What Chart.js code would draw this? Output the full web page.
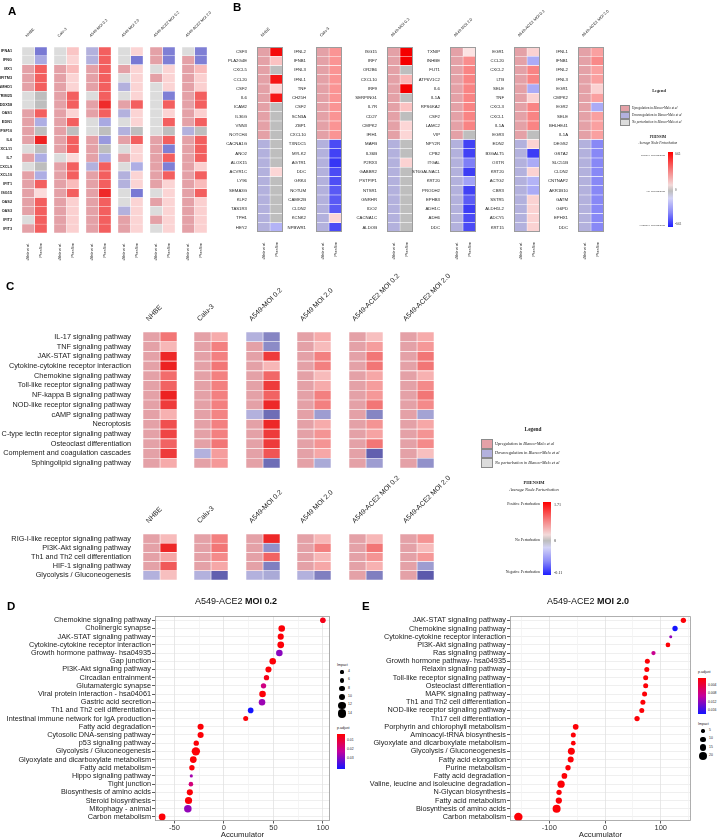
<!DOCTYPE html>
<html lang="en">
<head>
<meta charset="UTF-8" />
<title>PHENSIM vs Blanco-Melo et al.</title>
<script src="https://cdn.jsdelivr.net/npm/chart.js"></script>
<style>
  body { margin: 0; background: #fff; font-family: Arial, "Liberation Sans", sans-serif; }
  #page { position: relative; width: 719px; height: 839px; overflow: hidden; }
  #page canvas { position: absolute; }
  .t { position: absolute; white-space: nowrap; line-height: 1; color: #1a1a1a; }
  .serif { font-family: "Liberation Serif", "DejaVu Serif", serif; }
  .letter { font-weight: bold; font-size: 11.5px; color: #000; }
  .sw { position: absolute; box-sizing: border-box; border: 0.8px solid #8a8a8a; }
</style>
</head>
<body>
<div id="page"></div>
<script>
  // ---------- data ----------
  const cellLines = ['NHBE', 'Calu-3', 'A549-MOI 0.2', 'A549 MOI 2.0', 'A549-ACE2 MOI 0.2', 'A549-ACE2 MOI 2.0'];
  const colNames = ['Blanco-Melo et al.', 'PhenSim'];

  // A - interferon / inflammatory genes
  const aGenes = ['IFNA1', 'IFNG', 'MX1', 'IFITM3', 'SAMHD1', 'TRIM25', 'DDX58', 'OAS1', 'EDN1', 'TNFSF10', 'IL6',
    'CXCL11', 'IL7', 'CXCL9', 'CXCL10', 'IFIT1', 'ISG15', 'OAS2', 'OAS3', 'IFIT2', 'IFIT3'];
  // Blanco-Melo call: 1 up, -1 down, 0 no perturbation (one array per cell line)
  const aBlanco = [
    [0, 0, 1, 1, 1, 0, 0, 1, 1, 1, 1, 0, 1, 0, 1, 1, 1, 1, 1, 0, 1],
    [0, 0, 1, 1, 1, 1, 1, 1, 1, 1, 1, 1, 0, 1, 1, 1, 1, 1, 1, 1, 1],
    [-1, -1, 1, 1, 1, 0, 1, 1, 0, 0, 1, 1, 1, -1, 1, 1, 1, 1, 1, 1, 1],
    [0, 0, 1, 0, -1, 0, 1, -1, 0, -1, 1, 0, 1, 0, -1, -1, 0, 0, -1, 1, 1],
    [1, 1, 0, 1, 0, 0, 0, 0, 0, 0, 1, 1, 1, 1, 1, 1, 0, 1, 0, 1, 0],
    [0, 1, 1, 1, 1, 1, 1, 1, 1, -1, 1, 1, 1, 1, 1, 1, 1, 1, 1, 1, 1]
  ];
  // PhenSim average node perturbation, relative to the colour bar ends (0 = no perturbation)
  const aPhensim = [
    [-0.8, -0.35, 0.65, 0.65, 0.65, 0, 0, 0.65, -0.3, 0, 0.95, 0, -0.3, 0, -0.3, 0.65, 0.04, 0.65, 0.65, 0.65, 0.65],
    [0.15, 0.08, 0.2, 0.08, 0.08, 0.65, 0.65, 0.08, 0.65, 0, 0.65, 0.65, 0.05, 0.65, 0.65, 0.2, 0.65, 0.1, 0.1, 0.1, 0.1],
    [0.65, 0.65, 0.65, 0.65, 0.65, 0.65, 0.9, 0.65, -0.35, 0, -0.5, 0, -0.3, 0.65, 0.65, 0.65, 0.92, 0.65, 0.65, 0.65, 0.65],
    [0.08, -0.8, 0.08, 0.08, 0.08, 0.08, 0.65, 0.08, 0.08, 0, 0.65, 0.08, 0.08, -0.3, 0.08, 0.08, -0.8, 0.08, 0.08, 0.08, 0.08],
    [-0.75, -0.75, 0.08, 0.08, 0.08, -0.75, 0.65, 0.08, 0.65, 0, 0.65, -0.75, 0.65, -0.75, 0.65, 0.08, 0.08, 0.08, 0.08, 0.08, 0.08],
    [-0.75, -0.75, 0.2, 0.1, 0.1, 0.65, 0.65, 0.1, 0.65, 0, 0.65, 0.65, 0.65, 0.1, 0.65, 0.2, 0.65, 0.1, 0.1, 0.1, 0.1]
  ];

  // B - top 10 up / top 10 down genes of each cell line
  const bGenes = [
    ['CSF3', 'PLA2G4E', 'CXCL5', 'CCL20', 'CSF2', 'IL6', 'ICAM2', 'IL36G', 'VNN3', 'NOTCH4', 'CACNA1G', 'ANO2', 'ALOX15', 'ACVR1C', 'LY96', 'SEMA3G', 'KLF2', 'TAS1R3', 'TPH1', 'HEY2'],
    ['IFNL2', 'IFNB1', 'IFNL3', 'IFNL1', 'TNF', 'CH25H', 'CSF2', 'SCN3A', 'ZBP1', 'CXCL10', 'TXNDC5', 'MYLK2', 'AGTR1', 'DDC', 'GRK4', 'NOTUM', 'CAMK2B', 'CLDN2', 'KCNK2', 'NPBWR1'],
    ['ISG15', 'IRF7', 'OR2B6', 'CXCL10', 'IRF9', 'SERPING1', 'IL7R', 'CD27', 'CMPK2', 'IFIH1', 'MAFB', 'IL36B', 'P2RX3', 'GABBR2', 'PSTPIP1', 'NTSR1', 'GNRHR', 'IDO2', 'CACNA1C', 'ALDOB'],
    ['TXNIP', 'INHBE', 'FUT1', 'ATP6V1C2', 'IL6', 'IL1A', 'RPS6KA2', 'CSF2', 'LAMC2', 'VIP', 'NPY2R', 'CPB2', 'ITGAL', 'ST6GALNAC1', 'KRT20', 'PRODH2', 'EPHB3', 'ADH1C', 'ADH6', 'DDC'],
    ['EGR1', 'CCL20', 'CXCL2', 'LTB', 'SELE', 'TNF', 'CXCL3', 'CXCL1', 'IL1A', 'EGR3', 'EDN2', 'B3GALT5', 'OXTR', 'KRT20', 'ACTG2', 'CBR3', 'SSTR5', 'ALDH1L2', 'ADCY5', 'KRT15'],
    ['IFNL1', 'IFNB1', 'IFNL2', 'IFNL3', 'EGR1', 'CMPK2', 'EGR2', 'SELE', 'BHLHE41', 'IL1A', 'DEGS2', 'GSTA2', 'SLC51B', 'CLDN2', 'CNTNAP2', 'AKR1B10', 'GATM', 'G6PD', 'EPHX1', 'DDC']
  ];
  const bBlanco = [1, 1, 1, 1, 1, 1, 1, 1, 1, 1, -1, -1, -1, -1, -1, -1, -1, -1, -1, -1];
  const bPhensim = [
    [0.95, 0.15, 0, 0.9, 0.06, 0.9, 0, 0, 0, 0, 0, 0, 0, 0.06, 0, 0, 0, 0, 0, -0.2],
    [0.35, 0.35, 0.35, 0.35, 0.35, 0.35, 0.35, 0.35, 0.35, 0.35, -0.8, -0.85, -0.92, -0.8, -0.78, -0.72, -0.72, -0.72, 0.06, -0.8],
    [1, 1, 0, 0.2, 1, 0, 0.15, 0, 0.06, 0.06, 0, 0, 0.08, 0, 0, 0, 0, 0, 0, 0],
    [0.005, 0.38, 0.42, 0.42, 0.42, 0.42, 0.42, 0.42, 0.42, 0, -0.85, -0.85, -0.5, -0.88, -0.3, -0.85, -0.7, -0.88, -0.8, -0.8],
    [0.08, -0.25, 0.42, 0.42, -0.25, 0.08, 0.42, 0.42, 0.42, 0, 0.08, -0.88, -0.25, 0.08, -0.2, -0.25, 0.08, 0.08, 0.08, 0.08],
    [0.3, 0.4, 0.3, 0.3, 0.08, 0.3, -0.25, 0.3, 0.3, 0.3, -0.45, -0.45, -0.45, -0.45, -0.45, -0.45, -0.45, -0.45, -0.45, -0.45]
  ];

  // C - KEGG pathways
  const cPaths = ['IL-17 signaling pathway', 'TNF signaling pathway', 'JAK-STAT signaling pathway', 'Cytokine-cytokine receptor interaction',
    'Chemokine signaling pathway', 'Toll-like receptor signaling pathway', 'NF-kappa B signaling pathway', 'NOD-like receptor signaling pathway',
    'cAMP signaling pathway', 'Necroptosis', 'C-type lectin receptor signaling pathway', 'Osteoclast differentiation',
    'Complement and coagulation cascades', 'Sphingolipid signaling pathway'];
  const cBlanco = [
    [1, 1, 1, 1, 1, 1, 1, 1, 1, 1, 1, 1, 1, 1],
    [1, 1, 1, 1, 1, 1, 1, 1, 1, 1, 1, 1, -1, 1],
    [-1, 1, 1, 1, 1, 1, 1, 1, -1, 1, 1, 1, 1, 1],
    [1, 1, 1, 1, 1, 1, 1, 1, 1, 1, 1, 1, 1, 1],
    [1, 1, 1, 1, 1, 1, 1, 1, 1, 1, 1, 1, 1, 1],
    [1, 1, 1, 1, 1, 1, 1, 1, 1, 1, 1, 1, 1, 1]
  ];
  const cPhensim = [
    [0.55, 0.22, 0.95, 0.98, 0.6, 0.65, 0.98, 0.85, 0.25, 0.75, 0.8, 0.65, 0.85, 0.28],
    [0.28, 0.5, 0.5, 0.55, 0.5, 0.5, 0.5, 0.5, 0.48, 0.5, 0.5, 0.55, 0.35, 0.38],
    [-0.55, -0.5, 0.85, 0.22, 0.62, 0.85, 0.65, 0.95, -0.75, 0.95, 0.85, 0.85, 0.72, -0.75],
    [0.28, 0.2, 0.5, 0.5, 0.2, 0.28, 0.5, 0.5, -0.35, 0.28, 0.4, 0.4, 0.3, -0.25],
    [0.18, 0.35, 0.55, 0.55, 0.3, 0.35, 0.38, 0.55, -0.55, 0.4, 0.32, 0.55, -0.85, -0.35],
    [0.28, 0.38, 0.55, 0.55, 0.25, 0.45, 0.55, 0.45, -0.3, 0.3, 0.4, 0.45, 0.18, -0.45]
  ];
  const cPaths2 = ['RIG-I-like receptor signaling pathway', 'PI3K-Akt signaling pathway', 'Th1 and Th2 cell differentiation',
    'HIF-1 signaling pathway', 'Glycolysis / Gluconeogenesis'];
  const cBlanco2 = [
    [1, 1, 1, 1, -1], [1, 1, 1, 1, -1], [1, 1, 1, 1, -1], [1, 1, 1, 1, -1], [1, 1, 1, 1, 1], [1, 1, 1, 1, 1]
  ];
  const cPhensim2 = [
    [0.2, 0.95, 0.3, 0.7, 0.18],
    [0.5, 0.55, 0.45, 0.3, -0.85],
    [0.95, -0.45, 0.65, -0.6, -0.25],
    [0.22, 0.5, 0.22, 0.3, -0.6],
    [0.22, 0.55, 0.4, 0.25, -0.6],
    [0.4, 0.2, 0.38, -0.35, -0.9]
  ];

  // D - A549-ACE2 MOI 0.2
  const dPaths = ['Chemokine signaling pathway', 'Cholinergic synapse', 'JAK-STAT signaling pathway', 'Cytokine-cytokine receptor interaction',
    'Growth hormone pathway- hsa04935', 'Gap junction', 'PI3K-Akt signaling pathway', 'Circadian entrainment', 'Glutamatergic synapse',
    'Viral protein interaction - hsa04061', 'Gastric acid secretion', 'Th1 and Th2 cell differentiation',
    'Intestinal immune network for IgA production', 'Fatty acid degradation', 'Cytosolic DNA-sensing pathway', 'p53 signaling pathway',
    'Glycolysis / Gluconeogenesis', 'Glyoxylate and dicarboxylate metabolism', 'Fatty acid metabolism', 'Hippo signaling pathway',
    'Tight junction', 'Biosynthesis of amino acids', 'Steroid biosynthesis', 'Mitophagy - animal', 'Carbon metabolism'];
  const dAcc = [100, 58.4, 57.4, 57.4, 56, 49.3, 45, 43, 40, 39, 38.5, 27, 22, -23.6, -23.6, -28, -28.4, -31, -32.4, -33, -33.4, -34.5, -35.8, -36.5, -62.5];
  const dImpact = [8, 10, 9, 10.5, 10, 10, 9, 7.4, 7.4, 10, 10, 8, 6.8, 9, 9, 7.4, 15, 10.5, 7.4, 4, 6, 9, 11.6, 12.5, 10.5];
  const dPadj = [0.005, 0.003, 0.003, 0.003, 0.028, 0.003, 0.003, 0.005, 0.018, 0.003, 0.026, 0.041, 0.003, 0.003, 0.003, 0.003,
    0.003, 0.003, 0.003, 0.025, 0.017, 0.003, 0.003, 0.027, 0.003];
  const dImpactTicks = [4, 6, 8, 10, 12, 14];
  const dPadjTicks = [0.01, 0.02, 0.03];

  // E - A549-ACE2 MOI 2.0
  const ePaths = ['JAK-STAT signaling pathway', 'Chemokine signaling pathway', 'Cytokine-cytokine receptor interaction', 'PI3K-Akt signaling pathway',
    'Ras signaling pathway', 'Growth hormone pathway- hsa04935', 'Relaxin signaling pathway', 'Toll-like receptor signaling pathway',
    'Osteoclast differentiation', 'MAPK signaling pathway', 'Th1 and Th2 cell differentiation', 'NOD-like receptor signaling pathway',
    'Th17 cell differentiation', 'Porphyrin and chlorophyll metabolism', 'Aminoacyl-tRNA biosynthesis',
    'Glyoxylate and dicarboxylate metabolism', 'Glycolysis / Gluconeogenesis', 'Fatty acid elongation', 'Purine metabolism',
    'Fatty acid degradation', 'Valine, leucine and isoleucine degradation', 'N-Glycan biosynthesis', 'Fatty acid metabolism',
    'Biosynthesis of amino acids', 'Carbon metabolism'];
  const eAcc = [140.7, 125.7, 118, 113, 87, 76, 75, 73, 73, 71, 68, 66, 57.5, -52.7, -57, -57, -60.5, -61.7, -66.5, -73, -79, -82.6, -83, -87, -155.7];
  const eImpact = [9.7, 9.7, 4.3, 8, 7, 8.9, 8.9, 8.9, 8.9, 8.9, 8.9, 8.9, 9.7, 10.9, 8.9, 8, 15.7, 12, 9.7, 10.9, 17, 9.7, 13, 20, 22];
  const ePadj = [0.0005, 0.0174, 0.011, 0.0005, 0.008, 0.0005, 0.0005, 0.0005, 0.0005, 0.0005, 0.0005, 0.0005, 0.0005,
    0.0005, 0.0005, 0.0005, 0.0005, 0.0005, 0.0005, 0.0005, 0.0005, 0.0005, 0.0005, 0.0005, 0.0005];
  const eImpactTicks = [5, 10, 15, 20];
  const ePadjTicks = [0.004, 0.008, 0.012, 0.016];

  // ---------- colours ----------
  const bmColors = ['#b3b1dd', '#dcdcdc', '#e4a1a7']; // down, none, up
  const palA = { pos: [[252, 228, 228], [238, 24, 24]], neg: [[206, 206, 238], [100, 100, 205]] };
  const palB = { pos: [[252, 228, 228], [245, 0, 0]], neg: [[214, 214, 246], [40, 40, 245]] };
  const palC = { pos: [[250, 226, 226], [236, 30, 30]], neg: [[200, 200, 232], [80, 78, 165]] };

  function mix(a, b, t) {
    return 'rgb(' + a.map((x, i) => Math.round(x + (b[i] - x) * t)).join(',') + ')';
  }
  function psColor(v, pal) {
    if (v === 0) return '#bebebe';
    return v > 0 ? mix(pal.pos[0], pal.pos[1], Math.min(v, 1)) : mix(pal.neg[0], pal.neg[1], Math.min(-v, 1));
  }
  function padjColor(t) {
    t = Math.max(0, Math.min(1, t));
    return t < 0.5 ? mix([255, 0, 0], [196, 0, 158], t * 2) : mix([196, 0, 158], [20, 20, 255], (t - 0.5) * 2);
  }

  // ---------- helpers ----------
  const page = document.getElementById('page');

  function makeCanvas(x, y, w, h) {
    const cv = document.createElement('canvas');
    cv.width = w; cv.height = h;
    cv.style.left = x + 'px'; cv.style.top = y + 'px';
    page.appendChild(cv);
    return cv;
  }
  function put(html, x, y, css, cls) {
    const d = document.createElement('div');
    d.className = 't ' + (cls || '');
    d.innerHTML = html;
    d.style.left = x + 'px'; d.style.top = y + 'px';
    Object.assign(d.style, css || {});
    page.appendChild(d);
    return d;
  }
  function frame(color, lw) {
    return {
      id: 'frame',
      afterDatasetsDraw(chart) {
        const a = chart.chartArea, c = chart.ctx;
        c.save();
        c.strokeStyle = color; c.lineWidth = lw;
        c.strokeRect(a.left + lw / 2, a.top + lw / 2, a.width - lw, a.height - lw);
        c.restore();
      }
    };
  }

  function heatmap(o) {
    const W = o.labelW + o.cellW + o.padR;
    const H = o.topH + o.cellH + o.botH;
    const cv = makeCanvas(o.left - o.labelW, o.top - o.topH, W, H);
    const ds = (label, colours) => ({
      label: label, data: o.rows.map(() => 1), backgroundColor: colours,
      borderColor: '#fff', borderWidth: o.gap, borderSkipped: false, barPercentage: 1, categoryPercentage: 1
    });
    new Chart(cv, {
      type: 'bar',
      data: {
        labels: o.rows,
        datasets: [
          ds(colNames[0], o.blanco.map(v => bmColors[v + 1])),
          ds(colNames[1], o.phensim.map(v => psColor(v, o.pal)))
        ]
      },
      options: {
        indexAxis: 'y', responsive: false, animation: false, devicePixelRatio: 1,
        layout: { padding: { top: 0, left: 0, bottom: 0, right: o.padR } },
        plugins: { legend: { display: false }, tooltip: { enabled: false } },
        scales: {
          y: {
            stacked: true, grid: { display: false }, border: { display: false },
            ticks: { display: o.labelW > 0, font: o.rowFont, color: '#1a1a1a', padding: o.rowPad, autoSkip: false },
            afterFit(s) { s.width = o.labelW; s.paddingTop = 0; s.paddingBottom = 0; }
          },
          x: {
            type: 'linear', stacked: true, min: 0, max: 2, position: 'bottom', display: o.botH > 0,
            grid: { display: false }, border: { display: false },
            afterBuildTicks(s) { s.ticks = [{ value: 0.5 }, { value: 1.5 }]; },
            ticks: {
              autoSkip: false, minRotation: 90, maxRotation: 90, padding: 2, color: '#1a1a1a',
              font: c => ({ family: 'Arial', size: o.botSize, style: c.index === 0 ? 'italic' : 'normal' }),
              callback: (v, i) => colNames[i]
            },
            afterFit(s) { s.height = o.botH; s.paddingLeft = 0; s.paddingRight = 0; }
          },
          x2: {
            axis: 'x', type: 'linear', min: 0, max: 2, position: 'top',
            grid: { display: false }, border: { display: false },
            afterBuildTicks(s) { s.ticks = [{ value: 0.6 }]; },
            ticks: {
              autoSkip: false, minRotation: 45, maxRotation: 45, padding: 1, color: '#1a1a1a',
              font: o.topFont, callback: () => o.title
            },
            afterFit(s) { s.height = o.topH; s.paddingLeft = 0; s.paddingRight = 0; }
          }
        }
      },
      plugins: o.box ? [frame('#9c9c9c', 1)] : []
    });
  }

  function dotPlot(o) {
    const W = o.labelW + o.plotW + 4;
    const H = o.plotH + o.axisH;
    const cv = makeCanvas(o.left, o.top, W, H);
    new Chart(cv, {
      type: 'bubble',
      data: {
        datasets: [{
          data: o.paths.map((p, i) => ({ x: o.acc[i], y: p, r: o.radius(o.impact[i]) })),
          backgroundColor: o.padj.map(p => padjColor((p - o.pmin) / (o.pmax - o.pmin))),
          borderWidth: 0, clip: false
        }]
      },
      options: {
        responsive: false, animation: false, devicePixelRatio: 1,
        layout: { padding: { top: 0, left: 0, bottom: 0, right: 4 } },
        plugins: { legend: { display: false }, tooltip: { enabled: false } },
        scales: {
          y: {
            type: 'category', labels: o.paths, offset: true,
            grid: { color: '#ebebeb', lineWidth: 0.8, tickColor: '#333', tickLength: 3, offset: false },
            border: { display: false },
            ticks: { font: { family: 'Arial', size: 7.3 }, color: '#222', padding: 1, autoSkip: false },
            afterFit(s) { s.width = o.labelW; s.paddingTop = 0; s.paddingBottom = 0; }
          },
          x: {
            type: 'linear', min: o.xmin, max: o.xmax,
            afterBuildTicks(s) {
              // major + minor breaks, as in the ggplot original
              const ticks = [];
              for (let k = Math.ceil(o.xmin / o.minor); k * o.minor <= o.xmax; k++) ticks.push({ value: k * o.minor });
              s.ticks = ticks;
            },
            ticks: {
              autoSkip: false, maxRotation: 0, padding: 0, color: '#333',
              font: { family: 'Arial', size: 7.5 },
              callback: v => (v % o.major === 0 ? v : '')
            },
            grid: {
              lineWidth: 0.8, tickLength: 2.5,
              color: c => (c.tick && c.tick.value % o.major === 0 ? '#e2e2e2' : '#f2f2f2'),
              tickColor: c => (c.tick && c.tick.value % o.major === 0 ? '#333' : 'rgba(0,0,0,0)')
            },
            border: { display: false },
            title: { display: true, text: 'Accumulator', color: '#222', font: { family: 'Arial', size: 7.8 }, padding: 0 },
            afterFit(s) { s.height = o.axisH; s.paddingLeft = 0; s.paddingRight = 0; }
          }
        }
      },
      plugins: [frame('#9a9a9a', 0.8)]
    });
  }

  // ---------- panel A ----------
  const aLeft = [22, 54, 86, 118, 150, 182];
  cellLines.forEach((name, k) => heatmap({
    left: aLeft[k], top: 47, cellW: 25, cellH: 186, labelW: k === 0 ? 22 : 0, topH: 40, botH: 28, padR: 34,
    rows: aGenes, blanco: aBlanco[k], phensim: aPhensim[k], pal: palA, title: name, gap: 0.5, rowPad: 2,
    rowFont: { family: 'Arial', size: 3.8, weight: 'bold' }, topFont: { family: 'Arial', size: 3.8 }, botSize: 3.6
  }));

  // ---------- panel B ----------
  const bLeft = [257, 316, 387, 450, 514, 578];
  cellLines.forEach((name, k) => heatmap({
    left: bLeft[k], top: 47, cellW: 26, cellH: 185, labelW: 40, topH: 40, botH: 28, padR: 36,
    rows: bGenes[k], blanco: bBlanco, phensim: bPhensim[k], pal: palB, title: name, gap: 0.5, box: true, rowPad: 2,
    rowFont: { family: 'Arial', size: 4.3 }, topFont: { family: 'Arial', size: 4 }, botSize: 3.6
  }));

  // ---------- panel C ----------
  const cLeft = [143, 194, 246, 297, 349, 400];
  const cRowFont = { family: 'Arial', size: 7.3 };
  const cTopFont = { family: 'Arial', size: 7 };
  cellLines.forEach((name, k) => heatmap({
    left: cLeft[k], top: 332, cellW: 34, cellH: 136, labelW: k === 0 ? 143 : 0, topH: 60, botH: 0, padR: 80,
    rows: cPaths, blanco: cBlanco[k], phensim: cPhensim[k], pal: palC, title: name, gap: 0.6, rowPad: 4,
    rowFont: cRowFont, topFont: cTopFont, botSize: 4
  }));
  cellLines.forEach((name, k) => heatmap({
    left: cLeft[k], top: 534, cellW: 34, cellH: 46, labelW: k === 0 ? 143 : 0, topH: 60, botH: 0, padR: 80,
    rows: cPaths2, blanco: cBlanco2[k], phensim: cPhensim2[k], pal: palC, title: name, gap: 0.6, rowPad: 4,
    rowFont: cRowFont, topFont: cTopFont, botSize: 4
  }));

  // ---------- panels D and E ----------
  const dRadius = v => 0.5 * Math.sqrt(5.5 * v - 12);
  const eRadius = v => 0.5 * Math.sqrt(3.5 * v - 6);
  dotPlot({ left: 0, top: 612, labelW: 155, plotW: 175, plotH: 209, axisH: 19, paths: dPaths, acc: dAcc, impact: dImpact,
    padj: dPadj, pmin: 0.0022, pmax: 0.041, radius: dRadius, xmin: -69.7, xmax: 107, major: 50, minor: 25 });
  dotPlot({ left: 360, top: 612, labelW: 150, plotW: 181, plotH: 209, axisH: 19, paths: ePaths, acc: eAcc, impact: eImpact,
    padj: ePadj, pmin: 0.0002, pmax: 0.0174, radius: eRadius, xmin: -170.7, xmax: 154, major: 100, minor: 50 });

  // ---------- text, legends ----------
  put('A', 8, 6, {}, 'letter');
  put('B', 233, 2, {}, 'letter');
  put('C', 6, 281, {}, 'letter');
  put('D', 7, 601, {}, 'letter');
  put('E', 362, 601, {}, 'letter');

  const ctr = { transform: 'translate(-50%,-50%)' };
  const rgt = { transform: 'translate(-100%,-50%)' };
  const mid = { transform: 'translate(0,-50%)' };

  put('A549-ACE2 <b>MOI 0.2</b>', 236, 601, Object.assign({ fontSize: '9px', color: '#111' }, ctr));
  put('A549-ACE2 <b>MOI 2.0</b>', 588, 601, Object.assign({ fontSize: '9px', color: '#111' }, ctr));

  function boxLegend(x, y, w, h, titleX, titleY, size) {
    put('<b>Legend</b>', titleX, titleY, Object.assign({ fontSize: (size + 1) + 'px' }, ctr), 'serif');
    const items = ['Upregulation in <i>Blanco-Melo et al</i>', 'Downregulation in <i>Blanco-Melo et al</i>',
      '<i>No perturbation in Blanco-Melo et al</i>'];
    [bmColors[2], bmColors[0], bmColors[1]].forEach((c, i) => {
      const s = document.createElement('div');
      s.className = 'sw';
      Object.assign(s.style, { left: x + 'px', top: (y + i * h) + 'px', width: w + 'px', height: h + 'px', background: c });
      page.appendChild(s);
      put(items[i], x + w + 2, y + i * h + h / 2, Object.assign({ fontSize: size + 'px' }, mid), 'serif');
    });
  }
  boxLegend(620, 105, 10, 7, 659, 91, 3.3);
  boxLegend(481, 439, 12, 9.5, 533, 430, 4.3);

  function colourBar(x, y, w, h, zeroAt, cx, titleY, size, top, bottom, labelX, valueX) {
    put('<b>PHENSIM</b>', cx, titleY, Object.assign({ fontSize: size + 'px' }, ctr), 'serif');
    put('<i>Average Node Perturbation</i>', cx, titleY + size * 1.6, Object.assign({ fontSize: size + 'px' }, ctr), 'serif');
    const b = document.createElement('div');
    Object.assign(b.style, {
      position: 'absolute', left: x + 'px', top: y + 'px', width: w + 'px', height: h + 'px',
      background: 'linear-gradient(to bottom, #ff0000 0%, #f67a7a ' + (zeroAt * 0.45) + '%, #f3dada ' + (zeroAt * 0.85) + '%, #bdbdbd ' +
        zeroAt + '%, #d4d4f6 ' + (zeroAt + (100 - zeroAt) * 0.2) + '%, #8a8af8 ' + (zeroAt + (100 - zeroAt) * 0.6) + '%, #1e1eff 100%)'
    });
    page.appendChild(b);
    const lab = ['Positive Perturbation', 'No Perturbation', 'Negative Perturbation'];
    const ys = [y + 2.5, y + h * zeroAt / 100, y + h - 2.5];
    const vals = [top, '0', bottom];
    lab.forEach((l, i) => {
      put(l, labelX, ys[i], Object.assign({ fontSize: (size - 0.6) + 'px' }, rgt), 'serif');
      put(vals[i], valueX, ys[i], Object.assign({ fontSize: (size - 0.4) + 'px' }, mid), 'serif');
    });
  }
  colourBar(668, 152, 5, 75, 52, 658, 138, 3.5, '0.65', '-0.61', 665, 675);
  colourBar(543, 502, 8, 73, 53, 534, 483, 4.5, '1.71', '-0.11', 540, 554);

  function sizeLegend(x, y, step, ticks, radius, title) {
    put(title, x, y, Object.assign({ fontSize: '3.6px' }, mid));
    ticks.forEach((v, i) => {
      const r = radius(v), d = document.createElement('div');
      Object.assign(d.style, {
        position: 'absolute', left: (x + 5 - r) + 'px', top: (y + 6 + i * step - r) + 'px',
        width: 2 * r + 'px', height: 2 * r + 'px', borderRadius: '50%', background: '#000'
      });
      page.appendChild(d);
      put(String(v), x + 11, y + 6 + i * step, Object.assign({ fontSize: '3.4px' }, mid));
    });
  }
  function padjLegend(x, y, w, h, pmin, pmax, ticks) {
    put('p.adjust', x, y - 5, Object.assign({ fontSize: '3.6px' }, mid));
    const stops = [];
    for (let i = 0; i <= 10; i++) stops.push(padjColor(i / 10) + ' ' + i * 10 + '%');
    const b = document.createElement('div');
    Object.assign(b.style, {
      position: 'absolute', left: x + 'px', top: y + 'px', width: w + 'px', height: h + 'px',
      background: 'linear-gradient(to bottom,' + stops.join(',') + ')'
    });
    page.appendChild(b);
    ticks.forEach(t => {
      const ty = y + h * (t - pmin) / (pmax - pmin);
      put(String(t), x + w + 2, ty, Object.assign({ fontSize: '3.4px' }, mid));
    });
  }
  sizeLegend(337, 666, 8.3, dImpactTicks, dRadius, 'Impact');
  padjLegend(337, 734, 8, 35, 0.0022, 0.041, dPadjTicks);
  padjLegend(698, 678, 8, 36, 0.0002, 0.0174, ePadjTicks);
  sizeLegend(698, 725, 8.3, eImpactTicks, eRadius, 'Impact');
</script>
</body>
</html>
